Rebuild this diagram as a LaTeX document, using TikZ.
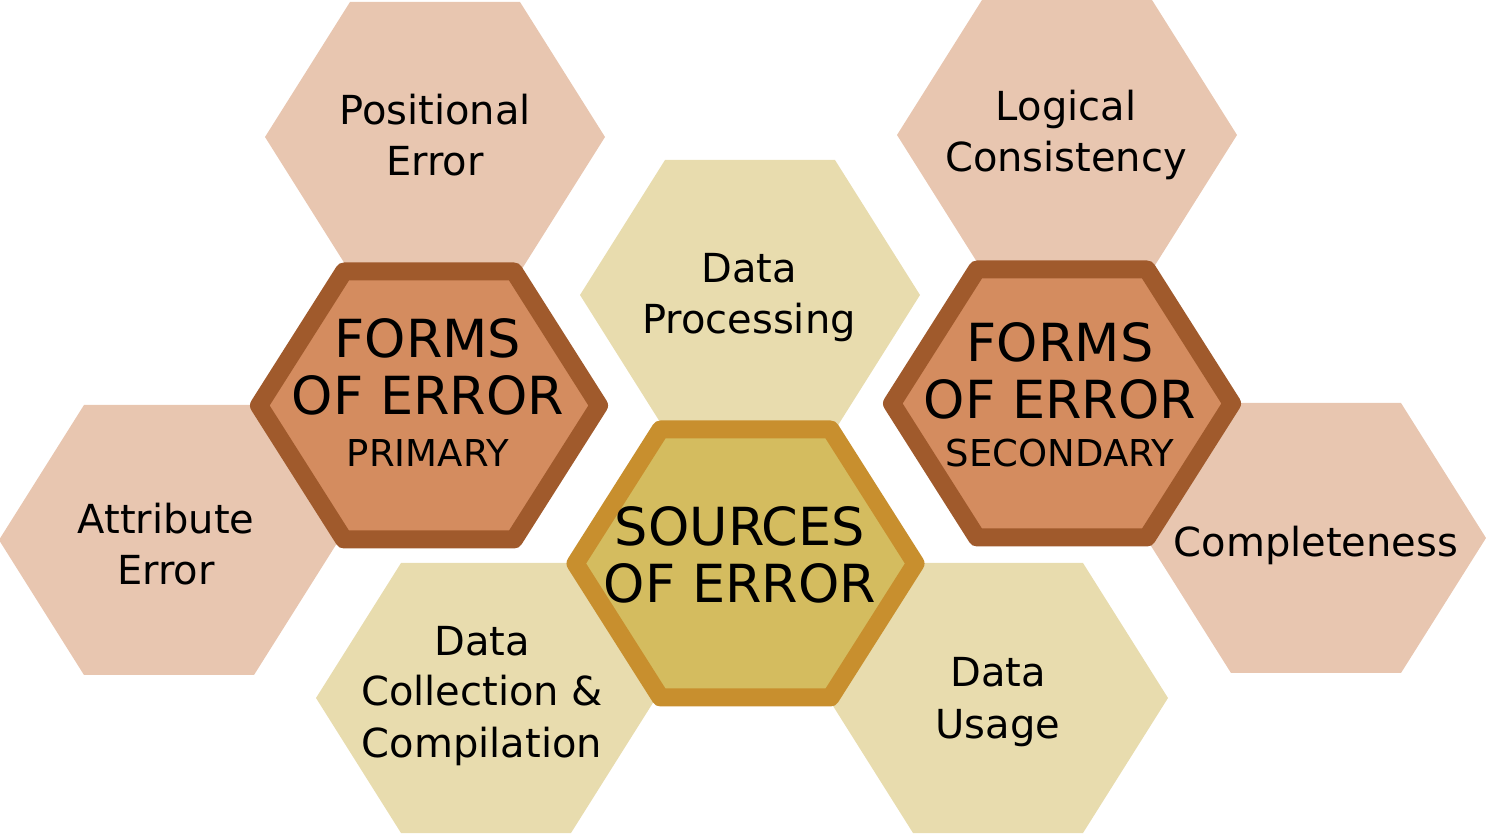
\documentclass[tikz,border=0pt]{standalone}
\usepackage{fontspec}
\setmainfont{DejaVu Sans}
\usepackage{tikz}

\definecolor{tanlight}{HTML}{E8C6B0}
\definecolor{sandlight}{HTML}{E8DCAE}
\definecolor{formsfill}{HTML}{D48C5F}
\definecolor{formsedge}{HTML}{A05A2C}
\definecolor{srcfill}{HTML}{D4BC5F}
\definecolor{srcedge}{HTML}{C88F2E}

\tikzset{
	tanhex/.style={fill=tanlight},
	sandhex/.style={fill=sandlight},
	formshex/.style={fill=formsfill,draw=formsedge,line width=18pt,line join=round},
	srchex/.style={fill=srcfill,draw=srcedge,line width=18pt,line join=round},
	hextext/.style={align=center,anchor=base,inner sep=0pt,font=\fontsize{40}{51}\selectfont},
	bigtext/.style={hextext,font=\fontsize{52.5}{57}\selectfont}
}

% flat-topped hexagon: [half height]{style}{x}{y}
\newcommand{\hexat}[4][135]{\path[#2,shift={(#3,#4)}] (-170,0) -- (-85,#1) -- (85,#1) -- (170,0) -- (85,-#1) -- (-85,-#1) -- cycle;}

\begin{document}
\begin{tikzpicture}[x=1pt,y=1pt]
	\useasboundingbox (0,0) rectangle (1486,833);
	% outer ring
	\hexat{tanhex}{435}{696}
	\hexat{tanhex}{1067}{698}
	\hexat{sandhex}{750}{538}
	\hexat{tanhex}{169}{293}
	\hexat{tanhex}{1316}{295}
	\hexat{sandhex}{486}{135}
	\hexat{sandhex}{998}{135}
	% the three framed ones
	\hexat[134]{formshex}{429}{427.5}
	\hexat[134]{formshex}{1062}{429.5}
	\hexat[134]{srchex}{745.5}{269.5}
	% labels
	\node[hextext](positional) at (435,657) {Positional\\Error};
	\node[hextext](logical) at (1066,661) {Logical\\Consistency};
	\node[hextext](processing) at (749,499) {Data\\Processing};
	\node[hextext](attribute) at (166,248) {Attribute\\Error};
	\node[hextext](completeness) at (1316,276) {Completeness};
	\node[hextext](collection) at (482,76) {Data\\Collection \&\\Compilation};
	\node[hextext](usage) at (998,95) {Data\\Usage};
	\node[bigtext](primary) at (428,366) {FORMS\\OF ERROR\\[-5pt]{\fontsize{37}{52}\selectfont PRIMARY}};
	\node[bigtext](secondary) at (1060,366) {FORMS\\OF ERROR\\[-9pt]{\fontsize{37}{52}\selectfont SECONDARY}};
	\node[bigtext](sources) at (740,230) {SOURCES\\OF ERROR};
\end{tikzpicture}
\end{document}
